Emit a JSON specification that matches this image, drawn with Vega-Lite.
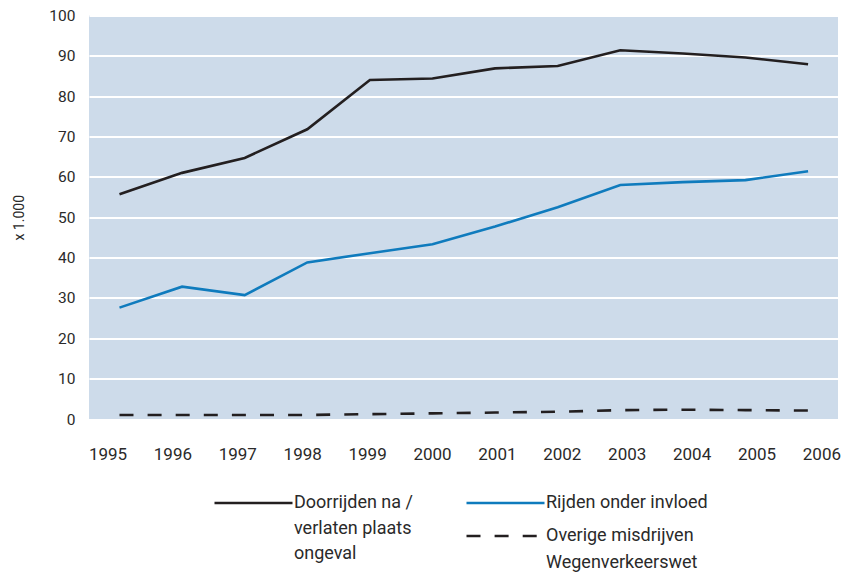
{
  "$schema": "https://vega.github.io/schema/vega-lite/v6.json",
  "width": 749,
  "height": 403.5,
  "autosize": {"type": "none"},
  "padding": {"left": 89, "top": 15.5, "right": 4, "bottom": 156},
  "background": "white",
  "config": {
    "view": {"fill": "#cddbea", "stroke": null},
    "font": "Roboto",
    "axis": {"labelColor": "#2a2a2a", "titleColor": "#2a2a2a", "labelFont": "Roboto", "titleFont": "Roboto"},
    "legend": {
      "symbolType": "stroke",
      "symbolSize": 6084,
      "symbolStrokeWidth": 2.6,
      "labelFont": "Roboto",
      "labelFontSize": 18,
      "labelColor": "#2a2a2a",
      "labelLimit": 0,
      "labelOffset": 0,
      "padding": 0
    }
  },
  "data": {
    "values": [
      {"year": 1995, "series": "Doorrijden na / verlaten plaats ongeval", "value": 55.7},
      {"year": 1996, "series": "Doorrijden na / verlaten plaats ongeval", "value": 61.0},
      {"year": 1997, "series": "Doorrijden na / verlaten plaats ongeval", "value": 64.7},
      {"year": 1998, "series": "Doorrijden na / verlaten plaats ongeval", "value": 71.8},
      {"year": 1999, "series": "Doorrijden na / verlaten plaats ongeval", "value": 84.0},
      {"year": 2000, "series": "Doorrijden na / verlaten plaats ongeval", "value": 84.4},
      {"year": 2001, "series": "Doorrijden na / verlaten plaats ongeval", "value": 86.9},
      {"year": 2002, "series": "Doorrijden na / verlaten plaats ongeval", "value": 87.5},
      {"year": 2003, "series": "Doorrijden na / verlaten plaats ongeval", "value": 91.4},
      {"year": 2004, "series": "Doorrijden na / verlaten plaats ongeval", "value": 90.6},
      {"year": 2005, "series": "Doorrijden na / verlaten plaats ongeval", "value": 89.6},
      {"year": 2006, "series": "Doorrijden na / verlaten plaats ongeval", "value": 87.9},
      {"year": 1995, "series": "Rijden onder invloed", "value": 27.6},
      {"year": 1996, "series": "Rijden onder invloed", "value": 32.8},
      {"year": 1997, "series": "Rijden onder invloed", "value": 30.7},
      {"year": 1998, "series": "Rijden onder invloed", "value": 38.8},
      {"year": 1999, "series": "Rijden onder invloed", "value": 41.1},
      {"year": 2000, "series": "Rijden onder invloed", "value": 43.3},
      {"year": 2001, "series": "Rijden onder invloed", "value": 47.7},
      {"year": 2002, "series": "Rijden onder invloed", "value": 52.5},
      {"year": 2003, "series": "Rijden onder invloed", "value": 58.0},
      {"year": 2004, "series": "Rijden onder invloed", "value": 58.7},
      {"year": 2005, "series": "Rijden onder invloed", "value": 59.2},
      {"year": 2006, "series": "Rijden onder invloed", "value": 61.4},
      {"year": 1995, "series": "Overige misdrijven Wegenverkeerswet", "value": 1.0},
      {"year": 1996, "series": "Overige misdrijven Wegenverkeerswet", "value": 1.0},
      {"year": 1997, "series": "Overige misdrijven Wegenverkeerswet", "value": 1.0},
      {"year": 1998, "series": "Overige misdrijven Wegenverkeerswet", "value": 1.0},
      {"year": 1999, "series": "Overige misdrijven Wegenverkeerswet", "value": 1.2},
      {"year": 2000, "series": "Overige misdrijven Wegenverkeerswet", "value": 1.4},
      {"year": 2001, "series": "Overige misdrijven Wegenverkeerswet", "value": 1.6},
      {"year": 2002, "series": "Overige misdrijven Wegenverkeerswet", "value": 1.8},
      {"year": 2003, "series": "Overige misdrijven Wegenverkeerswet", "value": 2.2},
      {"year": 2004, "series": "Overige misdrijven Wegenverkeerswet", "value": 2.3},
      {"year": 2005, "series": "Overige misdrijven Wegenverkeerswet", "value": 2.2},
      {"year": 2006, "series": "Overige misdrijven Wegenverkeerswet", "value": 2.1}
    ]
  },
  "layer": [
    {
      "transform": [{"filter": "datum.series == 'Doorrijden na / verlaten plaats ongeval'"}],
      "mark": {"type": "line", "strokeWidth": 2.6},
      "encoding": {
        "x": {"field": "year", "type": "quantitative", "scale": {"domain": [1994.513, 2006.478], "nice": false, "zero": false}, "axis": null},
        "y": {
          "field": "value", "type": "quantitative",
          "scale": {"domain": [0, 100], "nice": false},
          "axis": {
            "title": "x 1.000", "values": [0, 10, 20, 30, 40, 50, 60, 70, 80, 90, 100],
            "grid": true, "gridColor": "white", "gridWidth": 2, "gridOpacity": 1,
            "domain": false, "ticks": false, "labelPadding": 14, "labelFontSize": 15.5,
            "titleFontSize": 14, "titleFontWeight": "normal", "titlePadding": 22
          }
        },
        "color": {
          "field": "series", "type": "nominal",
          "scale": {"domain": ["Doorrijden na / verlaten plaats ongeval"], "range": ["#231f20"]},
          "legend": {
            "title": null, "orient": "none", "legendX": 124, "legendY": 447,
            "labelExpr": "['Doorrijden na /', 'verlaten plaats', 'ongeval']",
            "encode": {"labels": {"update": {"lineHeight": {"value": 25.5}}}}
          }
        }
      }
    },
    {
      "transform": [{"filter": "datum.series == 'Rijden onder invloed'"}],
      "mark": {"type": "line", "strokeWidth": 2.6},
      "encoding": {
        "x": {"field": "year", "type": "quantitative", "scale": {"domain": [1994.513, 2006.478], "nice": false, "zero": false}, "axis": null},
        "y": {"field": "value", "type": "quantitative"},
        "color": {
          "field": "series", "type": "nominal",
          "scale": {"domain": ["Rijden onder invloed"], "range": ["#0f7bbd"]},
          "legend": {"title": null, "orient": "none", "legendX": 376, "legendY": 447}
        }
      }
    },
    {
      "transform": [{"filter": "datum.series == 'Overige misdrijven Wegenverkeerswet'"}],
      "mark": {"type": "line", "strokeWidth": 2.6},
      "encoding": {
        "x": {"field": "year", "type": "quantitative", "scale": {"domain": [1994.513, 2006.478], "nice": false, "zero": false}, "axis": null},
        "y": {"field": "value", "type": "quantitative"},
        "color": {
          "field": "series", "type": "nominal",
          "scale": {"domain": ["Overige misdrijven Wegenverkeerswet"], "range": ["#231f20"]},
          "legend": {
            "title": null, "orient": "none", "legendX": 376, "legendY": 480,
            "labelExpr": "['Overige misdrijven', 'Wegenverkeerswet']",
            "encode": {
              "labels": {"update": {"lineHeight": {"value": 27}}},
              "symbols": {"update": {"strokeDash": {"value": [18, 7.5]}}}
            }
          }
        },
        "strokeDash": {
          "field": "series", "type": "nominal",
          "scale": {"domain": ["Overige misdrijven Wegenverkeerswet"], "range": [[14, 14.1]]},
          "legend": {
            "title": null, "orient": "none", "legendX": 376, "legendY": 480,
            "labelExpr": "['Overige misdrijven', 'Wegenverkeerswet']",
            "encode": {
              "labels": {"update": {"lineHeight": {"value": 27}}},
              "symbols": {"update": {"strokeDash": {"value": [18, 7.5]}}}
            }
          }
        }
      }
    },
    {
      "transform": [{"filter": "datum.series == 'Rijden onder invloed'"}],
      "mark": {"type": "point", "opacity": 0},
      "encoding": {
        "x": {
          "field": "year", "type": "quantitative",
          "scale": {"domain": [1994.715, 2006.256], "nice": false, "zero": false},
          "axis": {
            "orient": "bottom", "title": null, "values": [1995, 1996, 1997, 1998, 1999, 2000, 2001, 2002, 2003, 2004, 2005, 2006],
            "format": "d", "labelFontSize": 17, "labelPadding": 27.5, "ticks": false, "domain": false, "grid": false
          }
        },
        "y": {"field": "value", "type": "quantitative"}
      }
    }
  ],
  "resolve": {"scale": {"x": "independent", "color": "independent", "strokeDash": "independent"}}
}
